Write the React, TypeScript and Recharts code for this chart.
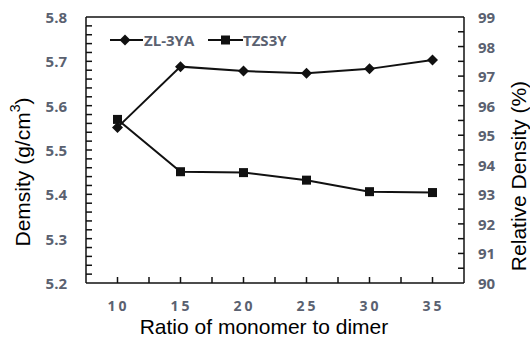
import React from "react";
import { LineChart, Line, XAxis, YAxis, ReferenceLine } from "recharts";

/* ---------- data ---------- */

const ratios = [10, 15, 20, 25, 30, 35];
const zl3ya = [5.551, 5.688, 5.678, 5.673, 5.683, 5.703];
const tzs3y = [5.569, 5.451, 5.449, 5.432, 5.406, 5.404];

const xDomain = [7.5, 37.5];
const xTicks = [7.5, 10, 12.5, 15, 17.5, 20, 22.5, 25, 27.5, 30, 32.5, 35, 37.5];
const xLabels = [10, 15, 20, 25, 30, 35];
const densityDomain = [5.2, 5.8];
const densityTicks = [5.2, 5.3, 5.4, 5.5, 5.6, 5.7, 5.8];
const relDomain = [90, 99];
const relTicks = [90, 91, 92, 93, 94, 95, 96, 97, 98, 99];

const data = ratios.map((r, i) => ({ ratio: r, zl: zl3ya[i], tzs: tzs3y[i] }));

// minor ticks: 5 per 0.1 on the left axis, 2 per 1 on the right one
const densityAll: number[] = [];
for (let i = 0; i < densityTicks.length - 1; i++) {
  for (let k = 0; k < 5; k++) densityAll.push(+(densityTicks[i] + k * 0.02).toFixed(2));
}
densityAll.push(densityTicks[densityTicks.length - 1]);

const relAll: number[] = [];
for (let i = 0; i < relTicks.length - 1; i++) {
  relAll.push(relTicks[i], relTicks[i] + 0.5);
}
relAll.push(relTicks[relTicks.length - 1]);

/* ---------- layout + styles ---------- */

const W = 530;
const H = 340;
const TOP = 17;
const LEFT_W = 86;
const RIGHT_W = 66;
const X_H = 57;
const PLOT = { x0: LEFT_W, x1: W - RIGHT_W, y0: TOP, y1: H - X_H };

const INK = "#111";
const TICK_COLOR = "#5a6170";
const TICK_FONT = "'Open Sans', 'DejaVu Sans', sans-serif";
const TITLE_FONT = "'Liberation Sans', Arial, sans-serif";
const TICK_LEN = 6;
const TICK_W = 1.5;

const isMajor = (v: number, step: number) =>
  Math.abs(v / step - Math.round(v / step)) < 1e-6;

/* ---------- tick labels ---------- */

function LeftTick(props: any) {
  const { x, y, payload } = props;
  const v = Number(payload.value);
  return (
    <text
      x={Number(x) - 19}
      y={Number(y)}
      textAnchor="end"
      dominantBaseline="central"
      fontFamily={TICK_FONT}
      fontWeight={700}
      fontSize={15}
      fill={TICK_COLOR}
    >
      {isMajor(v, 0.1) ? v.toFixed(1) : ""}
    </text>
  );
}

function RightTick(props: any) {
  const { x, y, payload } = props;
  const v = Number(payload.value);
  return (
    <text
      x={Number(x) + 14}
      y={Number(y)}
      textAnchor="start"
      dominantBaseline="central"
      fontFamily={TICK_FONT}
      fontWeight={700}
      fontSize={15}
      fill={TICK_COLOR}
    >
      {isMajor(v, 1) ? v : ""}
    </text>
  );
}

function BottomTick(props: any) {
  const { x, y, payload } = props;
  const v = Number(payload.value);
  return (
    <text
      x={Number(x) + 1}
      y={Number(y) + 22}
      textAnchor="middle"
      dominantBaseline="central"
      fontFamily={TICK_FONT}
      fontWeight={700}
      fontSize={14}
      letterSpacing={3}
      fill={TICK_COLOR}
    >
      {xLabels.includes(v) ? v : ""}
    </text>
  );
}

/* ---------- markers ---------- */

function Diamond({ cx, cy, index }: any) {
  const r = 5.5;
  return (
    <path
      key={`d-${index}`}
      d={`M${cx},${cy - r}L${cx + r},${cy}L${cx},${cy + r}L${cx - r},${cy}Z`}
      fill={INK}
    />
  );
}

function Square({ cx, cy, index }: any) {
  const s = 9;
  return <rect key={`s-${index}`} x={cx - s / 2} y={cy - s / 2} width={s} height={s} fill={INK} />;
}

/* ---------- inward tick marks, titles and legend laid over the chart ---------- */

const mapX = (v: number) =>
  PLOT.x0 + ((v - xDomain[0]) / (xDomain[1] - xDomain[0])) * (PLOT.x1 - PLOT.x0);
const mapY = (v: number, d: number[]) =>
  PLOT.y1 - ((v - d[0]) / (d[1] - d[0])) * (PLOT.y1 - PLOT.y0);

function Overlay() {
  const legendText = {
    fontFamily: TICK_FONT,
    fontWeight: 700,
    fontSize: 15,
    fill: TICK_COLOR,
  } as const;
  const title = { fontFamily: TITLE_FONT, fontSize: 21, fill: "#000" } as const;
  return (
    <svg
      width={W}
      height={H}
      style={{ position: "absolute", left: 0, top: 0, pointerEvents: "none" }}
    >
      <g fill={INK}>
        {densityAll
          .filter((v) => v > densityDomain[0] && v < densityDomain[1])
          .map((v) => (
            <rect
              key={`l${v}`}
              x={PLOT.x0}
              y={mapY(v, densityDomain) - TICK_W / 2}
              width={TICK_LEN}
              height={TICK_W}
            />
          ))}
        {relAll
          .filter((v) => v > relDomain[0] && v < relDomain[1])
          .map((v) => (
            <rect
              key={`r${v}`}
              x={PLOT.x1 - TICK_LEN}
              y={mapY(v, relDomain) - TICK_W / 2}
              width={TICK_LEN}
              height={TICK_W}
            />
          ))}
        {xTicks
          .filter((v) => v > xDomain[0] && v < xDomain[1])
          .map((v) => (
            <rect
              key={`b${v}`}
              x={mapX(v) - TICK_W / 2}
              y={PLOT.y1 - TICK_LEN}
              width={TICK_W}
              height={TICK_LEN}
            />
          ))}
      </g>
      <text x={264} y={334} textAnchor="middle" {...title}>
        Ratio of monomer to dimer
      </text>
      <text
        x={22}
        y={172}
        transform="rotate(-90, 22, 172)"
        textAnchor="middle"
        dominantBaseline="central"
        {...title}
      >
        Demsity (g/cm<tspan dy={-7} fontSize={14}>3</tspan>
        <tspan dy={7}>)</tspan>
      </text>
      <text
        x={518}
        y={176}
        transform="rotate(-90, 518, 176)"
        textAnchor="middle"
        dominantBaseline="central"
        {...title}
      >
        Relative Density (%)
      </text>
      <g transform="translate(108,30)">
        <rect x={2} y={9} width={33} height={2} fill={INK} />
        <path d="M17,4.5L22.5,10L17,15.5L11.5,10Z" fill={INK} />
        <text x={36} y={10} dominantBaseline="central" {...legendText}>
          ZL-3YA
        </text>
        <rect x={100} y={9} width={35} height={2} fill={INK} />
        <rect x={113} y={5.5} width={9} height={9} fill={INK} />
        <text x={135} y={10} dominantBaseline="central" {...legendText}>
          TZS3Y
        </text>
      </g>
    </svg>
  );
}

/* ---------- chart ---------- */

export default function App() {
  return (
    <div
      style={{
        position: "absolute",
        left: 0,
        top: 0,
        width: W,
        height: H,
        background: "#fff",
      }}
    >
      <LineChart
        width={W}
        height={H}
        data={data}
        margin={{ top: TOP, right: 0, left: 0, bottom: 0 }}
      >
        <XAxis
          dataKey="ratio"
          type="number"
          domain={xDomain}
          ticks={xTicks}
          interval={0}
          height={X_H}
          tickSize={0}
          tickMargin={0}
          tickLine={false}
          tick={BottomTick}
          axisLine={{ stroke: INK, strokeWidth: 1.5 }}
        />
        <YAxis
          yAxisId="left"
          domain={densityDomain}
          ticks={densityAll}
          interval={0}
          width={LEFT_W}
          tickSize={0}
          tickMargin={0}
          tickLine={false}
          tick={LeftTick}
          axisLine={{ stroke: INK, strokeWidth: 1.5 }}
        />
        <YAxis
          yAxisId="right"
          orientation="right"
          domain={relDomain}
          allowDataOverflow
          ticks={relAll}
          interval={0}
          width={RIGHT_W}
          tickSize={0}
          tickMargin={0}
          tickLine={false}
          tick={RightTick}
          axisLine={{ stroke: INK, strokeWidth: 1.5 }}
        />
        <ReferenceLine yAxisId="left" y={5.8} stroke={INK} strokeWidth={1.5} />
        <Line
          yAxisId="left"
          dataKey="zl"
          name="ZL-3YA"
          stroke={INK}
          strokeWidth={2}
          dot={Diamond}
          isAnimationActive={false}
        />
        <Line
          yAxisId="left"
          dataKey="tzs"
          name="TZS3Y"
          stroke={INK}
          strokeWidth={2}
          dot={Square}
          isAnimationActive={false}
        />
        {/* empty series so the right-hand axis is drawn */}
        <Line
          yAxisId="right"
          dataKey="rel"
          stroke="none"
          dot={false}
          activeDot={false}
          legendType="none"
          isAnimationActive={false}
        />
      </LineChart>
      <Overlay />
    </div>
  );
}
